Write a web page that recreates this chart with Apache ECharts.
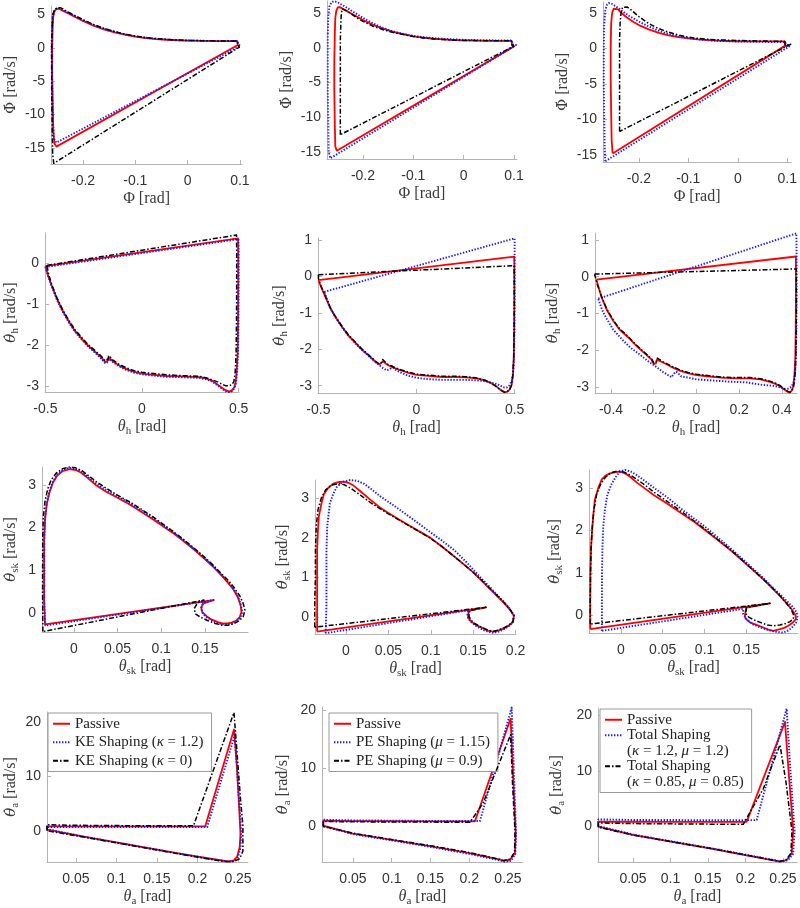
<!DOCTYPE html>
<html><head><meta charset="utf-8">
<script src="https://cdn.jsdelivr.net/npm/echarts@6/dist/echarts.min.js"></script>
<style>html,body{margin:0;padding:0;background:#fff}#c{width:800px;height:908px}</style>
</head><body><div id="c"></div>
<script>
// ---------- tick labels ----------
const ticksPhiX = [-0.2, -0.1, 0, 0.1];
const ticksPhiY = [-15, -10, -5, 0, 5];
const ticksHX = [-0.5, 0, 0.5];
const ticksHX6 = [-0.4, -0.2, 0, 0.2, 0.4];
const ticksHY4 = [-3, -2, -1, 0];
const ticksHY = [-3, -2, -1, 0, 1];
const ticksSkX = [0, 0.05, 0.1, 0.15];
const ticksSkX8 = [0, 0.05, 0.1, 0.15, 0.2];
const ticksSkY = [0, 1, 2, 3];
const ticksAX = [0.05, 0.1, 0.15, 0.2, 0.25];
const ticksAY = [0, 10, 20];

// ---------- legend names ----------
const namesKE = ['Passive', 'KE Shaping (κ = 1.2)', 'KE Shaping (κ = 0)'];
const namesPE = ['Passive', 'PE Shaping (μ = 1.15)', 'PE Shaping (μ = 0.9)'];
const namesTot = ['Passive', 'Total Shaping', 'Total Shaping '];
const namesTotExtra = ['(κ = 1.2, μ = 1.2)', '(κ = 0.85, μ = 0.85)'];

// ---------- Row 1 : Phi ----------
const p1Red = [[-0.258,3.0],[-0.257,4.6],[-0.255,5.4],[-0.251,5.8],[-0.246,5.85],[-0.24,5.6],[-0.23,5.2],[-0.22,4.8],[-0.2,4.0],[-0.18,3.3],[-0.16,2.75],[-0.14,2.3],[-0.12,1.95],[-0.1,1.65],[-0.08,1.45],[-0.06,1.3],[-0.04,1.2],[-0.02,1.12],[0,1.07],[0.03,1.03],[0.06,1.0],[0.095,1.0],[0.096,0.4],[0.099,0.15],[-0.251,-14.8],[-0.255,-14.3],[-0.257,-12],[-0.258,-8],[-0.259,-4],[-0.259,0],[-0.258,3.0]];
const p1Blue = [[-0.259,3.2],[-0.258,4.8],[-0.255,5.5],[-0.25,5.9],[-0.245,5.9],[-0.24,5.7],[-0.23,5.3],[-0.22,4.9],[-0.2,4.1],[-0.18,3.4],[-0.16,2.85],[-0.14,2.4],[-0.12,2.0],[-0.1,1.7],[-0.08,1.5],[-0.06,1.35],[-0.04,1.22],[-0.02,1.14],[0,1.08],[0.03,1.04],[0.06,1.02],[0.096,1.0],[0.097,0.5],[0.101,0.3],[-0.251,-14.2],[-0.256,-13.5],[-0.258,-10],[-0.259,-5],[-0.26,0],[-0.259,3.2]];
const p1Black = [[-0.259,3.3],[-0.258,4.9],[-0.255,5.6],[-0.25,6.0],[-0.244,6.0],[-0.238,5.8],[-0.23,5.4],[-0.22,5.0],[-0.2,4.2],[-0.18,3.5],[-0.16,2.9],[-0.14,2.45],[-0.12,2.05],[-0.1,1.75],[-0.08,1.52],[-0.06,1.37],[-0.04,1.25],[-0.02,1.16],[0,1.1],[0.03,1.05],[0.06,1.02],[0.095,1.0],[0.096,0.4],[0.099,0.1],[-0.256,-17.3],[-0.258,-16],[-0.259,-12],[-0.26,-6],[-0.26,0],[-0.259,3.3]];

const p2Red = [[-0.256,2],[-0.255,4.3],[-0.253,5.3],[-0.25,5.8],[-0.246,5.85],[-0.24,5.6],[-0.23,5.2],[-0.22,4.8],[-0.2,4.0],[-0.18,3.3],[-0.16,2.75],[-0.14,2.3],[-0.12,1.95],[-0.1,1.65],[-0.08,1.45],[-0.06,1.3],[-0.04,1.2],[-0.02,1.12],[0,1.07],[0.03,1.03],[0.06,1.0],[0.095,1.0],[0.096,0.4],[0.1,0.2],[-0.252,-14.8],[-0.255,-14.2],[-0.256,-11],[-0.257,-6],[-0.257,-2],[-0.256,2]];
const p2Blue = [[-0.27,2],[-0.269,4.5],[-0.267,5.9],[-0.263,6.5],[-0.258,6.7],[-0.252,6.6],[-0.245,6.3],[-0.235,5.9],[-0.22,5.2],[-0.2,4.3],[-0.18,3.5],[-0.16,2.85],[-0.14,2.35],[-0.12,2.0],[-0.1,1.72],[-0.08,1.52],[-0.06,1.38],[-0.04,1.28],[-0.02,1.2],[0,1.15],[0.03,1.1],[0.06,1.07],[0.096,1.05],[0.097,0.5],[0.104,0.4],[-0.265,-15.9],[-0.268,-15],[-0.269,-11],[-0.27,-6],[-0.27,-2],[-0.27,2]];
const p2Black = [[-0.245,-12.5],[-0.245,-8],[-0.245,-3],[-0.245,1],[-0.244,3.5],[-0.243,5.0],[-0.241,5.6],[-0.238,5.6],[-0.232,5.3],[-0.222,4.8],[-0.21,4.2],[-0.2,3.8],[-0.18,3.1],[-0.16,2.6],[-0.14,2.2],[-0.12,1.9],[-0.1,1.62],[-0.08,1.42],[-0.06,1.28],[-0.04,1.18],[-0.02,1.1],[0,1.05],[0.03,1.02],[0.06,1.0],[0.095,1.0],[0.096,0.4],[0.1,0.25],[-0.245,-12.5]];

const p3Red = [[-0.253,-14.8],[-0.255,-13],[-0.256,-9],[-0.257,-4],[-0.257,0],[-0.256,3.5],[-0.254,5.0],[-0.251,5.6],[-0.247,5.7],[-0.242,5.5],[-0.235,5.0],[-0.225,4.4],[-0.21,3.7],[-0.2,3.3],[-0.18,2.7],[-0.16,2.2],[-0.14,1.85],[-0.12,1.6],[-0.1,1.42],[-0.08,1.28],[-0.06,1.18],[-0.04,1.1],[-0.02,1.05],[0,1.02],[0.03,1.0],[0.06,1.0],[0.095,1.0],[0.096,0.4],[0.1,0.2],[-0.253,-14.8]];
const p3Blue = [[-0.268,-15.9],[-0.269,-14],[-0.27,-10],[-0.271,-5],[-0.271,0],[-0.27,3.5],[-0.268,5.3],[-0.265,6.1],[-0.261,6.4],[-0.256,6.35],[-0.25,6.1],[-0.24,5.6],[-0.23,5.1],[-0.22,4.6],[-0.2,3.8],[-0.18,3.1],[-0.16,2.5],[-0.14,2.05],[-0.12,1.7],[-0.1,1.45],[-0.08,1.28],[-0.06,1.15],[-0.04,1.07],[-0.02,1.02],[0,0.98],[0.03,0.95],[0.06,0.92],[0.096,0.9],[0.097,0.4],[0.104,0.3],[-0.268,-15.9]];
const p3Black = [[-0.239,-11.7],[-0.239,-8],[-0.239,-3],[-0.239,1],[-0.238,3.5],[-0.236,5.0],[-0.233,5.8],[-0.229,6.0],[-0.224,5.85],[-0.215,5.4],[-0.2,4.5],[-0.18,3.5],[-0.16,2.8],[-0.15,2.55],[-0.14,2.3],[-0.12,1.9],[-0.1,1.6],[-0.08,1.42],[-0.06,1.3],[-0.04,1.22],[-0.02,1.17],[0,1.13],[0.03,1.08],[0.06,1.04],[0.095,1.0],[0.096,0.4],[0.107,0.6],[-0.239,-11.7]];

// ---------- Row 2 : theta_h ----------
const p4Red = [[-0.5,-0.08],[0.497,0.6],[0.498,0.3],[0.498,-0.5],[0.497,-1.4],[0.495,-2.2],[0.49,-2.65],[0.485,-2.9],[0.477,-3.04],[0.465,-3.11],[0.453,-3.14],[0.443,-3.14],[0.43,-3.1],[0.415,-3.05],[0.4,-3.0],[0.38,-2.93],[0.36,-2.87],[0.332,-2.82],[0.3,-2.79],[0.264,-2.78],[0.2,-2.77],[0.128,-2.76],[0.06,-2.73],[0,-2.7],[-0.04,-2.66],[-0.077,-2.6],[-0.12,-2.5],[-0.15,-2.4],[-0.172,-2.31],[-0.176,-2.38],[-0.19,-2.42],[-0.21,-2.31],[-0.25,-2.14],[-0.279,-2.02],[-0.31,-1.86],[-0.347,-1.66],[-0.38,-1.42],[-0.415,-1.13],[-0.44,-0.88],[-0.466,-0.57],[-0.485,-0.32],[-0.5,-0.08]];
const p4Blue = [[-0.5,-0.1],[0.499,0.58],[0.5,0.3],[0.5,-0.5],[0.499,-1.4],[0.497,-2.2],[0.492,-2.65],[0.487,-2.92],[0.478,-3.06],[0.466,-3.13],[0.453,-3.16],[0.442,-3.16],[0.43,-3.12],[0.415,-3.07],[0.4,-3.02],[0.38,-2.95],[0.36,-2.89],[0.332,-2.84],[0.3,-2.81],[0.264,-2.8],[0.2,-2.79],[0.128,-2.78],[0.06,-2.75],[0,-2.72],[-0.04,-2.68],[-0.077,-2.62],[-0.12,-2.52],[-0.15,-2.42],[-0.17,-2.34],[-0.175,-2.41],[-0.19,-2.45],[-0.21,-2.34],[-0.25,-2.16],[-0.279,-2.04],[-0.31,-1.88],[-0.347,-1.68],[-0.38,-1.44],[-0.415,-1.15],[-0.44,-0.9],[-0.466,-0.59],[-0.485,-0.34],[-0.5,-0.1]];
const p4Black = [[-0.492,-0.06],[0.489,0.68],[0.49,0.3],[0.49,-0.5],[0.489,-1.4],[0.487,-2.2],[0.482,-2.7],[0.475,-2.9],[0.465,-2.97],[0.45,-3.0],[0.434,-3.0],[0.415,-2.96],[0.395,-2.91],[0.366,-2.86],[0.33,-2.8],[0.298,-2.77],[0.264,-2.76],[0.2,-2.75],[0.128,-2.73],[0.06,-2.7],[0,-2.67],[-0.04,-2.63],[-0.077,-2.57],[-0.12,-2.47],[-0.15,-2.37],[-0.172,-2.26],[-0.176,-2.34],[-0.19,-2.39],[-0.21,-2.28],[-0.25,-2.11],[-0.279,-1.99],[-0.31,-1.83],[-0.347,-1.63],[-0.38,-1.39],[-0.415,-1.1],[-0.44,-0.85],[-0.466,-0.54],[-0.482,-0.3],[-0.492,-0.06]];

const p5Red = [[-0.5,-0.1],[0.498,0.55],[0.499,0.2],[0.499,-0.6],[0.498,-1.5],[0.496,-2.2],[0.492,-2.7],[0.485,-2.98],[0.475,-3.1],[0.463,-3.16],[0.45,-3.18],[0.44,-3.16],[0.425,-3.1],[0.41,-3.03],[0.39,-2.96],[0.37,-2.9],[0.34,-2.84],[0.3,-2.79],[0.25,-2.77],[0.2,-2.76],[0.13,-2.76],[0.06,-2.73],[0,-2.7],[-0.04,-2.65],[-0.08,-2.58],[-0.12,-2.5],[-0.15,-2.42],[-0.172,-2.33],[-0.176,-2.38],[-0.19,-2.42],[-0.21,-2.34],[-0.25,-2.14],[-0.28,-2.0],[-0.31,-1.83],[-0.35,-1.6],[-0.38,-1.38],[-0.415,-1.1],[-0.44,-0.86],[-0.465,-0.55],[-0.485,-0.3],[-0.5,-0.1]];
const p5Blue = [[-0.47,-0.42],[0.5,1.05],[0.5,0.5],[0.5,-0.5],[0.499,-1.5],[0.497,-2.2],[0.493,-2.6],[0.485,-2.88],[0.472,-3.0],[0.46,-3.05],[0.448,-3.05],[0.435,-3.02],[0.42,-2.98],[0.4,-2.94],[0.37,-2.9],[0.34,-2.87],[0.3,-2.85],[0.25,-2.84],[0.2,-2.84],[0.13,-2.84],[0.06,-2.82],[0,-2.78],[-0.04,-2.73],[-0.08,-2.64],[-0.11,-2.55],[-0.125,-2.45],[-0.13,-2.52],[-0.15,-2.58],[-0.17,-2.52],[-0.19,-2.43],[-0.21,-2.35],[-0.25,-2.15],[-0.28,-2.01],[-0.31,-1.84],[-0.35,-1.61],[-0.38,-1.39],[-0.415,-1.1],[-0.44,-0.86],[-0.47,-0.42]];
const p5Black = [[-0.5,0.05],[0.497,0.3],[0.498,0.0],[0.498,-0.8],[0.497,-1.6],[0.495,-2.3],[0.49,-2.75],[0.483,-3.0],[0.473,-3.12],[0.46,-3.17],[0.448,-3.18],[0.437,-3.15],[0.42,-3.08],[0.4,-3.0],[0.38,-2.93],[0.35,-2.85],[0.3,-2.78],[0.25,-2.75],[0.2,-2.74],[0.13,-2.74],[0.06,-2.71],[0,-2.68],[-0.04,-2.63],[-0.08,-2.56],[-0.12,-2.48],[-0.15,-2.4],[-0.172,-2.28],[-0.176,-2.36],[-0.19,-2.4],[-0.21,-2.32],[-0.25,-2.12],[-0.28,-1.98],[-0.31,-1.81],[-0.35,-1.58],[-0.38,-1.36],[-0.415,-1.08],[-0.44,-0.84],[-0.465,-0.53],[-0.485,-0.28],[-0.5,-0.05],[-0.5,0.05]];

const p6Red = [[-0.469,-0.08],[0.466,0.55],[0.466,0.2],[0.466,-0.6],[0.465,-1.5],[0.463,-2.2],[0.459,-2.7],[0.453,-3.0],[0.445,-3.12],[0.435,-3.16],[0.425,-3.13],[0.41,-3.07],[0.39,-2.98],[0.37,-2.92],[0.34,-2.86],[0.3,-2.8],[0.25,-2.77],[0.2,-2.77],[0.13,-2.76],[0.06,-2.72],[0,-2.68],[-0.04,-2.63],[-0.078,-2.56],[-0.12,-2.45],[-0.156,-2.34],[-0.185,-2.26],[-0.19,-2.36],[-0.2,-2.38],[-0.21,-2.26],[-0.25,-2.05],[-0.28,-1.89],[-0.32,-1.65],[-0.36,-1.44],[-0.39,-1.2],[-0.42,-0.9],[-0.445,-0.55],[-0.469,-0.08]];
const p6Blue = [[-0.46,-0.6],[0.468,1.18],[0.469,0.6],[0.469,-0.5],[0.468,-1.5],[0.466,-2.2],[0.462,-2.6],[0.455,-2.88],[0.445,-3.0],[0.43,-3.05],[0.415,-3.06],[0.406,-3.04],[0.37,-2.98],[0.31,-2.95],[0.234,-2.88],[0.15,-2.86],[0.078,-2.83],[0,-2.8],[-0.047,-2.74],[-0.07,-2.72],[-0.094,-2.59],[-0.105,-2.64],[-0.117,-2.74],[-0.156,-2.6],[-0.19,-2.45],[-0.23,-2.29],[-0.27,-2.1],[-0.31,-1.93],[-0.35,-1.7],[-0.39,-1.44],[-0.42,-1.15],[-0.44,-0.93],[-0.46,-0.6]];
const p6Black = [[-0.477,0.07],[0.468,0.21],[0.468,-0.2],[0.468,-0.8],[0.467,-1.6],[0.465,-2.3],[0.461,-2.75],[0.455,-3.0],[0.447,-3.11],[0.437,-3.15],[0.426,-3.12],[0.41,-3.05],[0.39,-2.96],[0.37,-2.9],[0.34,-2.84],[0.3,-2.78],[0.25,-2.75],[0.2,-2.75],[0.13,-2.74],[0.06,-2.7],[0,-2.66],[-0.04,-2.61],[-0.078,-2.54],[-0.12,-2.43],[-0.156,-2.32],[-0.183,-2.22],[-0.188,-2.32],[-0.2,-2.35],[-0.21,-2.24],[-0.25,-2.03],[-0.28,-1.87],[-0.32,-1.63],[-0.36,-1.42],[-0.39,-1.18],[-0.42,-0.88],[-0.445,-0.53],[-0.465,-0.2],[-0.477,0.07]];

// ---------- Row 3 : theta_sk ----------
const p7Red = [[-0.033,-0.27],[-0.034,0.3],[-0.034,1.0],[-0.034,1.7],[-0.033,2.2],[-0.031,2.55],[-0.028,2.82],[-0.024,3.05],[-0.019,3.22],[-0.013,3.32],[-0.005,3.37],[0.002,3.35],[0.008,3.29],[0.015,3.18],[0.025,3.0],[0.037,2.84],[0.05,2.7],[0.065,2.53],[0.078,2.36],[0.09,2.2],[0.1,2.06],[0.113,1.88],[0.127,1.66],[0.14,1.44],[0.15,1.26],[0.16,1.07],[0.168,0.9],[0.176,0.72],[0.183,0.54],[0.188,0.36],[0.191,0.18],[0.192,0.02],[0.19,-0.1],[0.186,-0.18],[0.181,-0.23],[0.176,-0.25],[0.17,-0.25],[0.165,-0.22],[0.158,-0.16],[0.152,-0.08],[0.147,0.02],[0.146,0.12],[0.148,0.22],[0.16,0.3],[-0.033,-0.27]];
const p7Blue = [[-0.033,-0.3],[-0.034,0.3],[-0.034,1.0],[-0.034,1.7],[-0.033,2.22],[-0.031,2.58],[-0.028,2.85],[-0.024,3.08],[-0.019,3.25],[-0.013,3.35],[-0.005,3.4],[0.002,3.38],[0.008,3.32],[0.015,3.21],[0.025,3.04],[0.037,2.88],[0.05,2.73],[0.065,2.56],[0.078,2.39],[0.09,2.23],[0.1,2.09],[0.113,1.9],[0.127,1.68],[0.14,1.46],[0.15,1.28],[0.16,1.09],[0.168,0.92],[0.176,0.74],[0.183,0.56],[0.188,0.38],[0.191,0.2],[0.193,0.03],[0.191,-0.1],[0.187,-0.19],[0.182,-0.24],[0.176,-0.27],[0.17,-0.27],[0.164,-0.24],[0.157,-0.17],[0.151,-0.09],[0.147,0.01],[0.146,0.12],[0.148,0.22],[0.16,0.3],[-0.033,-0.3]];
const p7Black = [[-0.0355,-0.44],[-0.0358,0.3],[-0.0358,1.0],[-0.0357,1.7],[-0.035,2.25],[-0.033,2.62],[-0.03,2.9],[-0.026,3.12],[-0.02,3.28],[-0.013,3.38],[-0.005,3.42],[0.002,3.4],[0.009,3.34],[0.016,3.23],[0.026,3.07],[0.038,2.91],[0.05,2.76],[0.065,2.59],[0.078,2.42],[0.09,2.26],[0.1,2.11],[0.113,1.92],[0.127,1.7],[0.14,1.48],[0.15,1.3],[0.16,1.11],[0.168,0.94],[0.177,0.76],[0.184,0.58],[0.19,0.4],[0.194,0.22],[0.196,0.06],[0.194,-0.09],[0.189,-0.19],[0.183,-0.26],[0.177,-0.29],[0.17,-0.29],[0.162,-0.25],[0.153,-0.18],[0.145,-0.1],[0.139,-0.02],[0.138,0.1],[0.142,0.24],[0.149,0.3],[-0.0355,-0.44]];

const p8Red = [[-0.034,-0.36],[-0.034,0.3],[-0.034,1.0],[-0.034,1.7],[-0.033,2.2],[-0.032,2.53],[-0.029,2.85],[-0.026,3.1],[-0.021,3.25],[-0.015,3.36],[-0.008,3.4],[-0.003,3.41],[0.003,3.38],[0.009,3.31],[0.018,3.15],[0.029,2.95],[0.04,2.76],[0.05,2.62],[0.063,2.45],[0.076,2.29],[0.088,2.14],[0.1,1.99],[0.113,1.78],[0.127,1.54],[0.14,1.31],[0.15,1.13],[0.16,0.92],[0.17,0.71],[0.178,0.54],[0.186,0.37],[0.193,0.2],[0.198,0.04],[0.197,-0.12],[0.192,-0.21],[0.186,-0.28],[0.18,-0.33],[0.174,-0.36],[0.168,-0.34],[0.163,-0.29],[0.157,-0.23],[0.151,-0.16],[0.146,-0.07],[0.144,0.02],[0.145,0.17],[0.165,0.25],[-0.034,-0.36]];
const p8Blue = [[-0.024,-0.4],[-0.023,0.3],[-0.023,1.0],[-0.023,1.7],[-0.022,2.3],[-0.019,2.86],[-0.015,3.1],[-0.011,3.27],[-0.004,3.4],[0.005,3.45],[0.013,3.43],[0.021,3.36],[0.03,3.22],[0.041,3.03],[0.055,2.83],[0.068,2.63],[0.083,2.4],[0.1,2.13],[0.113,1.93],[0.127,1.7],[0.14,1.43],[0.15,1.2],[0.16,0.97],[0.17,0.75],[0.178,0.57],[0.186,0.39],[0.193,0.22],[0.198,0.05],[0.197,-0.12],[0.192,-0.22],[0.186,-0.3],[0.18,-0.36],[0.174,-0.39],[0.168,-0.37],[0.162,-0.32],[0.155,-0.24],[0.148,-0.13],[0.144,-0.02],[0.143,0.1],[0.145,0.18],[-0.024,-0.4]];
const p8Black = [[-0.037,-0.25],[-0.037,0.3],[-0.036,1.0],[-0.036,1.7],[-0.035,2.3],[-0.033,2.7],[-0.029,3.0],[-0.024,3.2],[-0.017,3.32],[-0.009,3.36],[-0.002,3.33],[0.006,3.24],[0.015,3.1],[0.029,2.88],[0.04,2.73],[0.05,2.6],[0.063,2.44],[0.076,2.28],[0.088,2.13],[0.1,1.98],[0.113,1.78],[0.127,1.54],[0.14,1.31],[0.15,1.13],[0.16,0.93],[0.17,0.72],[0.178,0.55],[0.186,0.38],[0.193,0.21],[0.198,0.05],[0.197,-0.1],[0.192,-0.2],[0.186,-0.27],[0.18,-0.32],[0.174,-0.35],[0.168,-0.33],[0.163,-0.28],[0.157,-0.22],[0.151,-0.15],[0.147,-0.06],[0.145,0.03],[0.146,0.17],[0.165,0.25],[-0.037,-0.25]];

const p9Red = [[-0.0365,-0.33],[-0.0365,0.3],[-0.0363,1.0],[-0.0355,1.6],[-0.0345,1.94],[-0.033,2.35],[-0.031,2.73],[-0.027,3.0],[-0.023,3.2],[-0.018,3.3],[-0.013,3.35],[-0.006,3.38],[0,3.39],[0.006,3.34],[0.011,3.27],[0.02,3.12],[0.031,2.96],[0.04,2.83],[0.051,2.69],[0.063,2.53],[0.075,2.37],[0.088,2.2],[0.1,2.02],[0.115,1.79],[0.13,1.55],[0.14,1.38],[0.15,1.2],[0.16,1.03],[0.17,0.85],[0.18,0.65],[0.19,0.45],[0.198,0.28],[0.204,0.14],[0.2085,0.0],[0.209,-0.09],[0.205,-0.18],[0.2,-0.25],[0.195,-0.3],[0.19,-0.33],[0.182,-0.37],[0.176,-0.34],[0.17,-0.29],[0.162,-0.23],[0.154,-0.17],[0.149,-0.08],[0.148,-0.02],[0.149,0.1],[0.15,0.18],[0.178,0.28],[-0.0365,-0.33]];
const p9Blue = [[-0.0226,-0.37],[-0.0226,0.3],[-0.0225,1.0],[-0.022,1.6],[-0.021,2.1],[-0.019,2.5],[-0.016,2.85],[-0.011,3.1],[-0.005,3.3],[0.0,3.4],[0.005,3.43],[0.012,3.39],[0.019,3.31],[0.03,3.15],[0.043,2.96],[0.057,2.76],[0.071,2.53],[0.085,2.32],[0.1,2.1],[0.115,1.85],[0.13,1.6],[0.14,1.42],[0.15,1.24],[0.16,1.06],[0.17,0.88],[0.18,0.68],[0.19,0.49],[0.2,0.3],[0.206,0.18],[0.21,0.06],[0.211,-0.06],[0.209,-0.18],[0.204,-0.3],[0.199,-0.37],[0.194,-0.41],[0.187,-0.4],[0.178,-0.36],[0.168,-0.3],[0.158,-0.22],[0.15,-0.09],[0.146,0.03],[0.146,0.15],[-0.0226,-0.37]];
const p9Black = [[-0.0365,-0.21],[-0.0365,0.3],[-0.0362,1.0],[-0.0355,1.6],[-0.034,2.1],[-0.032,2.5],[-0.029,2.85],[-0.024,3.1],[-0.018,3.27],[-0.011,3.37],[-0.003,3.41],[0.004,3.38],[0.012,3.3],[0.02,3.2],[0.031,3.04],[0.04,2.9],[0.051,2.75],[0.063,2.58],[0.075,2.41],[0.088,2.22],[0.1,2.04],[0.115,1.8],[0.13,1.56],[0.14,1.39],[0.15,1.21],[0.16,1.03],[0.17,0.85],[0.18,0.66],[0.19,0.46],[0.197,0.3],[0.203,0.15],[0.206,0.02],[0.206,-0.08],[0.202,-0.15],[0.196,-0.2],[0.19,-0.23],[0.182,-0.25],[0.175,-0.23],[0.168,-0.18],[0.16,-0.12],[0.153,-0.05],[0.149,0.04],[0.15,0.18],[0.178,0.28],[-0.0365,-0.21]];

// ---------- Row 4 : theta_a ----------
const p10Red = [[0.0144,0.3],[0.0144,0.9],[0.05,0.9],[0.1,0.9],[0.15,0.9],[0.2095,0.9],[0.245,18.6],[0.2485,12],[0.2515,4],[0.253,-0.5],[0.252,-2.9],[0.249,-4.6],[0.245,-5.3],[0.238,-5.5],[0.22,-5.1],[0.18,-4.1],[0.14,-3.05],[0.1,-2.0],[0.06,-0.95],[0.0144,0.3]];
const p10Blue = [[0.0144,0.4],[0.0144,0.8],[0.05,0.8],[0.1,0.8],[0.15,0.8],[0.212,0.8],[0.246,17.6],[0.249,11],[0.252,4],[0.254,-0.5],[0.253,-3.0],[0.25,-4.7],[0.246,-5.4],[0.239,-5.55],[0.22,-5.15],[0.18,-4.15],[0.14,-3.1],[0.1,-2.05],[0.06,-1.0],[0.0144,0.4]];
const p10Black = [[0.0144,0.1],[0.0144,1.2],[0.05,1.1],[0.1,1.05],[0.15,1.0],[0.195,1.0],[0.245,21.7],[0.249,14],[0.253,6],[0.256,1.0],[0.256,-3.6],[0.252,-5.0],[0.245,-5.5],[0.236,-5.55],[0.22,-5.2],[0.18,-4.2],[0.14,-3.15],[0.1,-2.1],[0.06,-1.05],[0.0144,0.1]];

const p11Red = [[0.0117,0.0],[0.0117,0.95],[0.05,0.88],[0.1,0.85],[0.15,0.84],[0.2074,0.84],[0.2534,18.6],[0.2565,9],[0.26,-1.3],[0.259,-4.65],[0.253,-5.77],[0.244,-6.0],[0.24,-5.77],[0.2,-4.65],[0.153,-3.53],[0.102,-2.4],[0.05,-1.29],[0.0139,0.0],[0.0117,0.0]];
const p11Blue = [[0.0117,0.1],[0.0117,1.1],[0.05,1.0],[0.1,0.95],[0.15,0.9],[0.2139,0.88],[0.2548,20.5],[0.2575,10],[0.2605,-1.3],[0.2595,-4.8],[0.254,-6.0],[0.246,-6.15],[0.24,-5.95],[0.2,-4.8],[0.153,-3.65],[0.102,-2.5],[0.05,-1.38],[0.0139,-0.1],[0.0117,0.1]];
const p11Black = [[0.0117,-0.1],[0.0117,0.8],[0.05,0.75],[0.1,0.72],[0.15,0.7],[0.201,0.67],[0.218,4.0],[0.2534,15.8],[0.256,7],[0.259,-0.7],[0.2585,-4.5],[0.253,-5.7],[0.244,-5.95],[0.238,-5.7],[0.2,-4.55],[0.153,-3.45],[0.102,-2.35],[0.05,-1.22],[0.0139,-0.1],[0.0117,-0.1]];

const p12Red = [[0.0037,0.0],[0.0037,0.9],[0.05,0.88],[0.1,0.87],[0.15,0.87],[0.2016,0.87],[0.2527,18.8],[0.258,9],[0.2637,-0.77],[0.2616,-4.86],[0.2549,-6.0],[0.246,-6.3],[0.2423,-6.2],[0.2047,-5.26],[0.1556,-3.98],[0.1044,-2.8],[0.0497,-1.46],[0.0037,0.0]];
const p12Blue = [[0.0037,0.1],[0.0037,1.3],[0.05,1.2],[0.1,1.18],[0.15,1.17],[0.2149,1.17],[0.2549,21.2],[0.26,10],[0.2655,-0.8],[0.2635,-4.9],[0.257,-6.0],[0.249,-6.25],[0.2423,-6.1],[0.2047,-5.15],[0.1556,-3.9],[0.1044,-2.72],[0.0497,-1.4],[0.0037,0.1]];
const p12Black = [[0.0037,-0.1],[0.0037,0.65],[0.05,0.55],[0.1,0.5],[0.15,0.45],[0.197,0.41],[0.2237,6.8],[0.246,14.7],[0.2483,15.0],[0.254,8],[0.262,-0.8],[0.2605,-4.8],[0.254,-5.95],[0.245,-6.25],[0.2423,-6.15],[0.2047,-5.2],[0.1556,-3.95],[0.1044,-2.78],[0.0497,-1.5],[0.0037,-0.1]];

// ---------- layout ----------
const grids = [
  {left:50, top:6, width:192, height:158},
  {left:327, top:1, width:190, height:158},
  {left:603, top:2, width:194, height:160},
  {left:43, top:233, width:196, height:159},
  {left:318, top:238, width:197, height:155},
  {left:595, top:233, width:202, height:160},
  {left:39, top:467, width:209, height:165},
  {left:315, top:480, width:201, height:154},
  {left:589, top:470, width:209, height:163},
  {left:46, top:712, width:202, height:153},
  {left:322, top:707, width:201, height:158},
  {left:598, top:708, width:199, height:157}
];
const xr = [[-0.261,0.104],[-0.2715,0.106],[-0.2725,0.1078],[-0.502,0.502],[-0.502,0.502],[-0.475,0.471],[-0.0365,0.1995],[-0.0365,0.2005],[-0.038,0.2115],[0.0144,0.2623],[0.01,0.2694],[0.0033,0.2687]];
const yr = [[-17.4,6.25],[-16.0,6.73],[-16.0,6.55],[-3.15,0.73],[-3.2,1.06],[-3.17,1.19],[-0.45,3.42],[-0.42,3.45],[-0.42,3.43],[-5.6,21.8],[-6.2,20.6],[-6.35,21.3]];
const xt = [ticksPhiX,ticksPhiX,ticksPhiX,ticksHX,ticksHX,ticksHX6,ticksSkX,ticksSkX8,ticksSkX,ticksAX,ticksAX,ticksAX];
const yt = [ticksPhiY,ticksPhiY,ticksPhiY,ticksHY4,ticksHY,ticksHY,ticksSkY,ticksSkY,ticksSkY,ticksAY,ticksAY,ticksAY];
const yNameGap = [27,24,30,24,28,32,21,22,24,26,29,31];
const rowX = ['Φ [rad]','{it|θ}{sub|h} [rad]','{it|θ}{sub|sk} [rad]','{it|θ}{sub|a} [rad]'];
const rowY = ['{dot|Φ\u0307} [rad/s]','{doti|θ\u0307}{sub|h} [rad/s]','{doti|θ\u0307}{sub|sk} [rad/s]','{doti|θ\u0307}{sub|a} [rad/s]'];

const SERIF = "'Liberation Serif','DejaVu Serif',serif";
const DJ = "'DejaVu Serif',serif";
const SANS = "'Liberation Sans','DejaVu Sans',sans-serif";
const NC = '#3a3a3a';
const nameStyle = {fontFamily:SERIF, fontSize:16, color:NC, lineHeight:20,
  rich:{it:{fontFamily:SERIF, fontStyle:'italic', fontSize:16, lineHeight:20, color:NC},
        dot:{fontFamily:DJ, fontSize:15, lineHeight:20, color:NC},
        doti:{fontFamily:DJ, fontStyle:'italic', fontSize:15, lineHeight:20, color:NC},
        sub:{fontFamily:SERIF, fontSize:11, lineHeight:10, verticalAlign:'bottom', color:NC}}};
const axisCol = '#b4b4b4';
function fmt(v){ return String(v); }

const xAxis = [], yAxis = [];
for (let g = 0; g < 12; g++) {
  const row = Math.floor(g/3);
  xAxis.push({type:'value', gridIndex:g, min:xr[g][0], max:xr[g][1], name:rowX[row], nameLocation:'middle', nameGap:25,
    nameTextStyle:nameStyle,
    axisLine:{onZero:false, lineStyle:{color:axisCol}},
    axisTick:{inside:true, length:4, customValues:xt[g], lineStyle:{color:axisCol}},
    axisLabel:{customValues:xt[g], margin:10, color:'#333', fontFamily:SANS, fontSize:14, formatter:fmt},
    splitLine:{show:false}});
  yAxis.push({type:'value', gridIndex:g, min:yr[g][0], max:yr[g][1], name:rowY[row], nameLocation:'middle', nameGap:yNameGap[g],
    nameTextStyle:nameStyle,
    axisLine:{onZero:false, lineStyle:{color:axisCol}},
    axisTick:{inside:true, length:4, customValues:yt[g], lineStyle:{color:axisCol}},
    axisLabel:{customValues:yt[g], margin:6, color:'#333', fontFamily:SANS, fontSize:14, formatter:fmt},
    splitLine:{show:false}});
}

const STY = {
  red:{color:'#ff0000', width:1.8, type:'solid'},
  blue:{color:'#1a1aff', width:1.9, type:[1.4,1.6]},
  black:{color:'#000000', width:1.5, type:[5,2,1.5,2]}
};
const panelData = [
  [p1Red,p1Blue,p1Black],[p2Red,p2Blue,p2Black],[p3Red,p3Blue,p3Black],
  [p4Red,p4Blue,p4Black],[p5Red,p5Blue,p5Black],[p6Red,p6Blue,p6Black],
  [p7Red,p7Blue,p7Black],[p8Red,p8Blue,p8Black],[p9Red,p9Blue,p9Black],
  [p10Red,p10Blue,p10Black],[p11Red,p11Blue,p11Black],[p12Red,p12Blue,p12Black]
];
const colNames = [namesKE, namesPE, namesTot];
const series = [];
panelData.forEach((trip, g) => {
  const nm = colNames[g % 3];
  ['red','blue','black'].forEach((k, i) => {
    const s = STY[k];
    series.push({type:'line', name:nm[i], xAxisIndex:g, yAxisIndex:g, data:trip[i],
      symbol:'none', showSymbol:false, smooth:false, silent:true, z:2+i,
      lineStyle:{color:s.color, width:s.width, type:s.type, cap:'butt', join:'round'},
      itemStyle:{color:s.color}});
  });
});
// continuation lines of the two-line legend entries (no marks)
namesTotExtra.forEach(n => series.push({type:'line', name:n, xAxisIndex:11, yAxisIndex:11, data:[],
  symbol:'none', silent:true, lineStyle:{opacity:0}, itemStyle:{opacity:0}}));

function legendFor(items, left, top, gap){
  return {data:items, orient:'vertical', left, top, itemWidth:17, itemHeight:10, itemGap:gap,
    backgroundColor:'#fff', borderColor:'#9a9a9a', borderWidth:1, borderRadius:0, padding:[3,8,3,4],
    selectedMode:false, itemStyle:{opacity:0},
    textStyle:{fontFamily:SERIF, fontSize:15, color:'#222', lineHeight:15.5,
      rich:{i:{fontFamily:SERIF, fontStyle:'italic', fontSize:15, lineHeight:15.5, color:'#222'}}},
    formatter: n => n.replace(/κ/g,'{i|κ}').replace(/μ/g,'{i|μ}')};
}
const totItems = [namesTot[0], namesTot[1], {name:namesTotExtra[0], lineStyle:{opacity:0}}, namesTot[2], {name:namesTotExtra[1], lineStyle:{opacity:0}}];

const chart = echarts.init(document.getElementById('c'), null, {renderer:'canvas'});
chart.setOption({
  animation:false,
  backgroundColor:'#fff',
  grid:grids,
  xAxis, yAxis, series,
  legend:[legendFor(namesKE,48,713,3), legendFor(namesPE,329,713,3), legendFor(totItems,600,709,0)]
});
</script></body></html>
